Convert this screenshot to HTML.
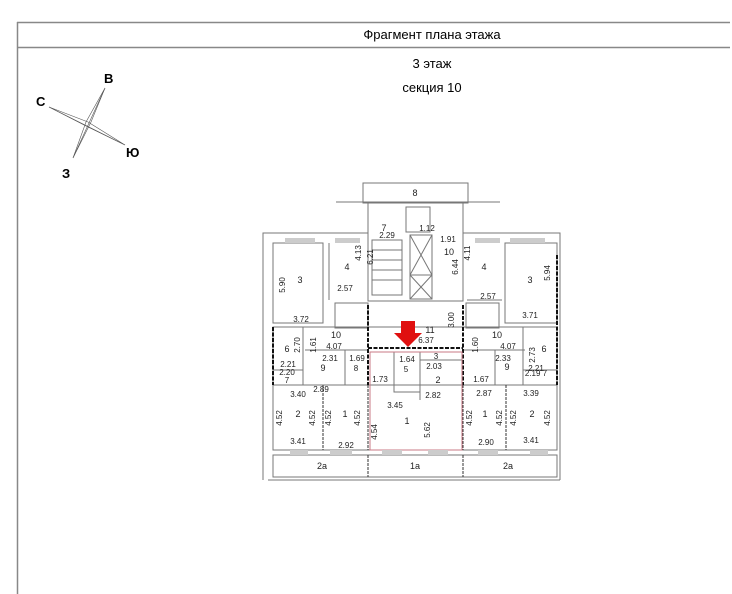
<!DOCTYPE html>
<html><head><meta charset="utf-8"><style>
html,body{margin:0;padding:0;background:#fff;}
svg{display:block;font-family:"Liberation Sans",sans-serif;}
</style></head><body>
<svg width="732" height="594" viewBox="0 0 732 594" xmlns="http://www.w3.org/2000/svg">
<line x1="17" y1="22.5" x2="730" y2="22.5" stroke="#888" stroke-width="1.5"/>
<line x1="17" y1="47.5" x2="730" y2="47.5" stroke="#888" stroke-width="1.5"/>
<line x1="17.5" y1="22" x2="17.5" y2="594" stroke="#888" stroke-width="1.5"/>
<text x="432" y="39" font-size="13" text-anchor="middle">Фрагмент плана этажа</text>
<text x="432" y="68" font-size="13" text-anchor="middle">3 этаж</text>
<text x="432" y="92" font-size="13" text-anchor="middle">секция 10</text>
<g stroke="#555" stroke-width="0.6" fill="none">
<polygon points="105,88 91,122 73,158 86,122"/>
<polygon points="49,107 88,122 125,145 86,126"/>
<line x1="105" y1="88" x2="73" y2="158"/><line x1="49" y1="107" x2="125" y2="145"/>
</g>
<g font-size="13" font-weight="bold">
<text x="104" y="83">В</text><text x="36" y="106">С</text><text x="126" y="157">Ю</text><text x="62" y="178">З</text>
</g>
<g stroke="#777" stroke-width="1" fill="none">
<rect x="363" y="183" width="105" height="20"/>
<line x1="336" y1="202" x2="500" y2="202"/>
<rect x="368" y="203" width="95" height="98"/>
<rect x="410" y="235" width="22" height="40"/><line x1="410" y1="235" x2="432" y2="275"/><line x1="432" y1="235" x2="410" y2="275"/>
<rect x="410" y="275" width="22" height="24"/><line x1="410" y1="275" x2="432" y2="299"/><line x1="432" y1="275" x2="410" y2="299"/>
<rect x="372" y="240" width="30" height="55"/>
<line x1="372" y1="250" x2="402" y2="250"/><line x1="372" y1="260" x2="402" y2="260"/><line x1="372" y1="270" x2="402" y2="270"/><line x1="372" y1="280" x2="402" y2="280"/>
<rect x="406" y="207" width="24" height="25"/>
<polyline points="368,233 263,233 263,480"/>
<rect x="273" y="243" width="50" height="80"/>
<line x1="329" y1="243" x2="329" y2="300"/>
<rect x="335" y="303" width="33" height="25"/>
<polyline points="463,233 560,233 560,480"/>
<rect x="505" y="243" width="52" height="80"/>
<line x1="467" y1="300" x2="502" y2="300"/>
<rect x="466" y="303" width="33" height="25"/>
<rect x="273" y="327" width="284" height="58"/>
<line x1="305" y1="350" x2="368" y2="350"/>
<line x1="463" y1="350" x2="525" y2="350"/>
<line x1="303" y1="327" x2="303" y2="385"/><line x1="345" y1="350" x2="345" y2="385"/>
<line x1="523" y1="327" x2="523" y2="385"/><line x1="495" y1="350" x2="495" y2="385"/>
<line x1="273" y1="370" x2="303" y2="370"/><line x1="523" y1="370" x2="557" y2="370"/>
<rect x="273" y="385" width="284" height="65"/>
<line x1="323" y1="385" x2="323" y2="450" stroke="#333" stroke-dasharray="3,1"/>
<line x1="368" y1="385" x2="368" y2="450" stroke="#333" stroke-dasharray="3,1"/>
<line x1="463" y1="385" x2="463" y2="450" stroke="#333" stroke-dasharray="3,1"/>
<line x1="506" y1="385" x2="506" y2="450" stroke="#333" stroke-dasharray="3,1"/>
<rect x="273" y="455" width="284" height="22"/>
<line x1="368" y1="455" x2="368" y2="477" stroke="#333" stroke-dasharray="3,1"/>
<line x1="463" y1="455" x2="463" y2="477" stroke="#333" stroke-dasharray="3,1"/>
<line x1="268" y1="480" x2="560" y2="480"/>
<polyline points="394,352 394,392 420,392"/>
<polyline points="420,360 462,360"/>
<line x1="420" y1="352" x2="420" y2="400"/>
</g>
<g stroke="#111" stroke-width="2" stroke-dasharray="4,1.5" fill="none">
<line x1="557" y1="255" x2="557" y2="385"/>
<line x1="273" y1="327" x2="273" y2="385"/>
<line x1="368" y1="305" x2="368" y2="385"/>
<line x1="463" y1="305" x2="463" y2="385"/>
<line x1="368" y1="348" x2="463" y2="348"/>
</g>
<polygon points="370,352 462,352 462,450 370,450" fill="none" stroke="#c87a85" stroke-width="1"/>
<g fill="#ccc">
<rect x="290" y="450" width="18" height="5"/><rect x="330" y="450" width="22" height="5"/>
<rect x="382" y="450" width="20" height="5"/><rect x="428" y="450" width="20" height="5"/>
<rect x="478" y="450" width="20" height="5"/><rect x="530" y="450" width="18" height="5"/>
<rect x="285" y="238" width="30" height="5"/><rect x="335" y="238" width="25" height="5"/>
<rect x="475" y="238" width="25" height="5"/><rect x="510" y="238" width="35" height="5"/>
</g>
<polygon points="401,321 415,321 415,333 422,333 408,347 394,333 401,333" fill="#e01010"/>
<g font-size="8" fill="#222" text-anchor="middle">
<text x="415" y="196" font-size="9">8</text>
<text x="384" y="231" font-size="9">7</text><text x="387" y="238">2.29</text>
<text x="427" y="231">1.12</text><text x="448" y="242">1.91</text>
<text x="449" y="255" font-size="9">10</text>
<text x="347" y="270" font-size="9">4</text><text x="484" y="270" font-size="9">4</text>
<text x="345" y="291">2.57</text><text x="488" y="299">2.57</text>
<text x="361" y="253" transform="rotate(-90 361 253)">4.13</text>
<text x="470" y="253" transform="rotate(-90 470 253)">4.11</text>
<text x="300" y="283" font-size="9">3</text>
<text x="530" y="283" font-size="9">3</text>
<text x="301" y="322">3.72</text><text x="530" y="318">3.71</text>
<text x="285" y="285" transform="rotate(-90 285 285)">5.90</text>
<text x="550" y="273" transform="rotate(-90 550 273)">5.94</text>
<text x="458" y="267" transform="rotate(-90 458 267)">6.44</text>
<text x="373" y="257" transform="rotate(-90 373 257)">6.21</text>
<text x="454" y="320" transform="rotate(-90 454 320)">3.00</text>
<text x="430" y="333" font-size="9">11</text><text x="426" y="343">6.37</text>
<text x="336" y="338" font-size="9">10</text><text x="497" y="338" font-size="9">10</text>
<text x="334" y="349">4.07</text><text x="508" y="349">4.07</text>
<text x="287" y="352" font-size="9">6</text><text x="544" y="352" font-size="9">6</text>
<text x="323" y="371" font-size="9">9</text><text x="507" y="370" font-size="9">9</text>
<text x="330" y="361">2.31</text><text x="503" y="361">2.33</text>
<text x="357" y="361">1.69</text><text x="356" y="371">8</text>
<text x="288" y="367">2.21</text><text x="287" y="375">2.20</text><text x="287" y="383">7</text>
<text x="536" y="371">2.21</text><text x="536" y="376">2.19 7</text>
<text x="407" y="362">1.64</text><text x="406" y="372">5</text>
<text x="436" y="359">3</text><text x="434" y="369">2.03</text>
<text x="438" y="383" font-size="9">2</text><text x="433" y="398">2.82</text>
<text x="380" y="382">1.73</text><text x="481" y="382">1.67</text>
<text x="321" y="392">2.89</text><text x="484" y="396">2.87</text>
<text x="298" y="397">3.40</text><text x="531" y="396">3.39</text>
<text x="395" y="408">3.45</text>
<text x="298" y="417" font-size="9">2</text><text x="345" y="417" font-size="9">1</text>
<text x="407" y="424" font-size="9">1</text><text x="485" y="417" font-size="9">1</text><text x="532" y="417" font-size="9">2</text>
<text x="298" y="444">3.41</text><text x="346" y="448">2.92</text>
<text x="486" y="445">2.90</text><text x="531" y="443">3.41</text>
<text x="322" y="469" font-size="9">2a</text><text x="415" y="469" font-size="9">1a</text><text x="508" y="469" font-size="9">2a</text>
<text x="282" y="418" transform="rotate(-90 282 418)">4.52</text>
<text x="315" y="418" transform="rotate(-90 315 418)">4.52</text>
<text x="331" y="418" transform="rotate(-90 331 418)">4.52</text>
<text x="360" y="418" transform="rotate(-90 360 418)">4.52</text>
<text x="377" y="432" transform="rotate(-90 377 432)">4.54</text>
<text x="430" y="430" transform="rotate(-90 430 430)">5.62</text>
<text x="472" y="418" transform="rotate(-90 472 418)">4.52</text>
<text x="502" y="418" transform="rotate(-90 502 418)">4.52</text>
<text x="516" y="418" transform="rotate(-90 516 418)">4.52</text>
<text x="550" y="418" transform="rotate(-90 550 418)">4.52</text>
<text x="300" y="345" transform="rotate(-90 300 345)">2.70</text>
<text x="316" y="345" transform="rotate(-90 316 345)">1.61</text>
<text x="478" y="345" transform="rotate(-90 478 345)">1.60</text>
<text x="535" y="355" transform="rotate(-90 535 355)">2.73</text>
</g>
</svg>
</body></html>
